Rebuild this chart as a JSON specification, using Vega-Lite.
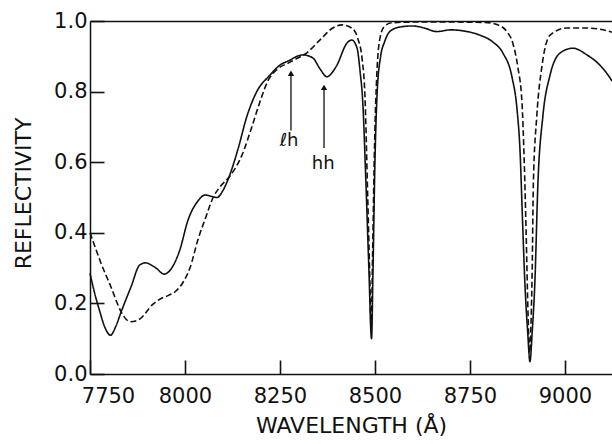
{
  "$schema": "https://vega.github.io/schema/vega-lite/v6.json",
  "width": 522,
  "height": 353,
  "autosize": "none",
  "padding": {"left": 90, "top": 21, "right": 0, "bottom": 70},
  "background": "white",
  "config": {
    "view": {"stroke": null},
    "font": "DejaVu Sans",
    "axis": {
      "grid": false,
      "domainColor": "#111",
      "tickColor": "#111",
      "labelColor": "#111",
      "titleColor": "#111",
      "labelFont": "DejaVu Sans",
      "titleFont": "DejaVu Sans",
      "labelFontSize": 21,
      "titleFontSize": 22,
      "titleFontWeight": "normal",
      "domainWidth": 1.5,
      "tickWidth": 1.6
    }
  },
  "datasets": {
    "curves": [
      {"series": "measured", "wl": 7750, "r": 0.285},
      {"series": "measured", "wl": 7762, "r": 0.23},
      {"series": "measured", "wl": 7775, "r": 0.18},
      {"series": "measured", "wl": 7790, "r": 0.13},
      {"series": "measured", "wl": 7804, "r": 0.11},
      {"series": "measured", "wl": 7818, "r": 0.135},
      {"series": "measured", "wl": 7832, "r": 0.176},
      {"series": "measured", "wl": 7858, "r": 0.247},
      {"series": "measured", "wl": 7881, "r": 0.309},
      {"series": "measured", "wl": 7897, "r": 0.315},
      {"series": "measured", "wl": 7912, "r": 0.308},
      {"series": "measured", "wl": 7924, "r": 0.3},
      {"series": "measured", "wl": 7945, "r": 0.283},
      {"series": "measured", "wl": 7963, "r": 0.297},
      {"series": "measured", "wl": 7986, "r": 0.35},
      {"series": "measured", "wl": 8008, "r": 0.436},
      {"series": "measured", "wl": 8034, "r": 0.49},
      {"series": "measured", "wl": 8053, "r": 0.507},
      {"series": "measured", "wl": 8070, "r": 0.503},
      {"series": "measured", "wl": 8084, "r": 0.5},
      {"series": "measured", "wl": 8100, "r": 0.52},
      {"series": "measured", "wl": 8113, "r": 0.55},
      {"series": "measured", "wl": 8139, "r": 0.635},
      {"series": "measured", "wl": 8163, "r": 0.73},
      {"series": "measured", "wl": 8189, "r": 0.8},
      {"series": "measured", "wl": 8224, "r": 0.847},
      {"series": "measured", "wl": 8250, "r": 0.875},
      {"series": "measured", "wl": 8276, "r": 0.889},
      {"series": "measured", "wl": 8295, "r": 0.9},
      {"series": "measured", "wl": 8311, "r": 0.904},
      {"series": "measured", "wl": 8337, "r": 0.895},
      {"series": "measured", "wl": 8355, "r": 0.865},
      {"series": "measured", "wl": 8374, "r": 0.842},
      {"series": "measured", "wl": 8388, "r": 0.855},
      {"series": "measured", "wl": 8400, "r": 0.875},
      {"series": "measured", "wl": 8426, "r": 0.937},
      {"series": "measured", "wl": 8439, "r": 0.946},
      {"series": "measured", "wl": 8453, "r": 0.923},
      {"series": "measured", "wl": 8461, "r": 0.856},
      {"series": "measured", "wl": 8468, "r": 0.77},
      {"series": "measured", "wl": 8476, "r": 0.55},
      {"series": "measured", "wl": 8484, "r": 0.3},
      {"series": "measured", "wl": 8491, "r": 0.1},
      {"series": "measured", "wl": 8495, "r": 0.3},
      {"series": "measured", "wl": 8500, "r": 0.6},
      {"series": "measured", "wl": 8506, "r": 0.8},
      {"series": "measured", "wl": 8515, "r": 0.9},
      {"series": "measured", "wl": 8525, "r": 0.94},
      {"series": "measured", "wl": 8539, "r": 0.97},
      {"series": "measured", "wl": 8566, "r": 0.983},
      {"series": "measured", "wl": 8600, "r": 0.986},
      {"series": "measured", "wl": 8630, "r": 0.98},
      {"series": "measured", "wl": 8663, "r": 0.97},
      {"series": "measured", "wl": 8700, "r": 0.975},
      {"series": "measured", "wl": 8732, "r": 0.972},
      {"series": "measured", "wl": 8776, "r": 0.96},
      {"series": "measured", "wl": 8811, "r": 0.94},
      {"series": "measured", "wl": 8837, "r": 0.909},
      {"series": "measured", "wl": 8861, "r": 0.84},
      {"series": "measured", "wl": 8874, "r": 0.75},
      {"series": "measured", "wl": 8882, "r": 0.63},
      {"series": "measured", "wl": 8888, "r": 0.45},
      {"series": "measured", "wl": 8895, "r": 0.25},
      {"series": "measured", "wl": 8902, "r": 0.12},
      {"series": "measured", "wl": 8908, "r": 0.035},
      {"series": "measured", "wl": 8914, "r": 0.12},
      {"series": "measured", "wl": 8921, "r": 0.26},
      {"series": "measured", "wl": 8929, "r": 0.54},
      {"series": "measured", "wl": 8942, "r": 0.73},
      {"series": "measured", "wl": 8961, "r": 0.847},
      {"series": "measured", "wl": 8987, "r": 0.909},
      {"series": "measured", "wl": 9021, "r": 0.923},
      {"series": "measured", "wl": 9058, "r": 0.904},
      {"series": "measured", "wl": 9092, "r": 0.875},
      {"series": "measured", "wl": 9118, "r": 0.84},
      {"series": "measured", "wl": 9124, "r": 0.83},
      {"series": "calculated", "wl": 7750, "r": 0.4},
      {"series": "calculated", "wl": 7765, "r": 0.355},
      {"series": "calculated", "wl": 7779, "r": 0.314},
      {"series": "calculated", "wl": 7805, "r": 0.247},
      {"series": "calculated", "wl": 7832, "r": 0.176},
      {"series": "calculated", "wl": 7845, "r": 0.155},
      {"series": "calculated", "wl": 7858, "r": 0.148},
      {"series": "calculated", "wl": 7870, "r": 0.15},
      {"series": "calculated", "wl": 7884, "r": 0.158},
      {"series": "calculated", "wl": 7913, "r": 0.195},
      {"series": "calculated", "wl": 7937, "r": 0.214},
      {"series": "calculated", "wl": 7955, "r": 0.222},
      {"series": "calculated", "wl": 7974, "r": 0.233},
      {"series": "calculated", "wl": 7995, "r": 0.26},
      {"series": "calculated", "wl": 8013, "r": 0.3},
      {"series": "calculated", "wl": 8034, "r": 0.38},
      {"series": "calculated", "wl": 8055, "r": 0.445},
      {"series": "calculated", "wl": 8074, "r": 0.5},
      {"series": "calculated", "wl": 8092, "r": 0.53},
      {"series": "calculated", "wl": 8118, "r": 0.56},
      {"series": "calculated", "wl": 8150, "r": 0.62},
      {"series": "calculated", "wl": 8176, "r": 0.7},
      {"series": "calculated", "wl": 8197, "r": 0.77},
      {"series": "calculated", "wl": 8218, "r": 0.83},
      {"series": "calculated", "wl": 8245, "r": 0.865},
      {"series": "calculated", "wl": 8274, "r": 0.882},
      {"series": "calculated", "wl": 8297, "r": 0.895},
      {"series": "calculated", "wl": 8321, "r": 0.91},
      {"series": "calculated", "wl": 8355, "r": 0.946},
      {"series": "calculated", "wl": 8389, "r": 0.98},
      {"series": "calculated", "wl": 8413, "r": 0.989},
      {"series": "calculated", "wl": 8439, "r": 0.98},
      {"series": "calculated", "wl": 8455, "r": 0.95},
      {"series": "calculated", "wl": 8466, "r": 0.895},
      {"series": "calculated", "wl": 8474, "r": 0.78},
      {"series": "calculated", "wl": 8481, "r": 0.5},
      {"series": "calculated", "wl": 8487, "r": 0.25},
      {"series": "calculated", "wl": 8490, "r": 0.12},
      {"series": "calculated", "wl": 8494, "r": 0.35},
      {"series": "calculated", "wl": 8499, "r": 0.65},
      {"series": "calculated", "wl": 8505, "r": 0.85},
      {"series": "calculated", "wl": 8513, "r": 0.95},
      {"series": "calculated", "wl": 8525, "r": 0.985},
      {"series": "calculated", "wl": 8545, "r": 0.995},
      {"series": "calculated", "wl": 8600, "r": 0.997},
      {"series": "calculated", "wl": 8700, "r": 0.997},
      {"series": "calculated", "wl": 8790, "r": 0.996},
      {"series": "calculated", "wl": 8821, "r": 0.99},
      {"series": "calculated", "wl": 8847, "r": 0.97},
      {"series": "calculated", "wl": 8863, "r": 0.937},
      {"series": "calculated", "wl": 8876, "r": 0.87},
      {"series": "calculated", "wl": 8887, "r": 0.77},
      {"series": "calculated", "wl": 8893, "r": 0.6},
      {"series": "calculated", "wl": 8898, "r": 0.4},
      {"series": "calculated", "wl": 8903, "r": 0.17},
      {"series": "calculated", "wl": 8907, "r": 0.06},
      {"series": "calculated", "wl": 8911, "r": 0.15},
      {"series": "calculated", "wl": 8914, "r": 0.3},
      {"series": "calculated", "wl": 8917, "r": 0.54},
      {"series": "calculated", "wl": 8926, "r": 0.73},
      {"series": "calculated", "wl": 8940, "r": 0.875},
      {"series": "calculated", "wl": 8961, "r": 0.96},
      {"series": "calculated", "wl": 9005, "r": 0.98},
      {"series": "calculated", "wl": 9058, "r": 0.98},
      {"series": "calculated", "wl": 9118, "r": 0.97},
      {"series": "calculated", "wl": 9124, "r": 0.968}
    ],
    "arrows": [
      {"label": "ℓh", "wl": 8279, "lwl": 8274, "y1": 0.69, "y2": 0.852, "ly": 0.66},
      {"label": "hh", "wl": 8366, "lwl": 8364, "y1": 0.64, "y2": 0.812, "ly": 0.595}
    ]
  },
  "layer": [
    {
      "data": {"name": "curves"},
      "mark": {"type": "line", "interpolate": "monotone", "strokeWidth": 1.6, "color": "#111"},
      "encoding": {
        "x": {
          "field": "wl", "type": "quantitative",
          "scale": {"domain": [7750, 9124], "nice": false, "zero": false},
          "axis": {
            "values": [7750, 8000, 8250, 8500, 8750, 9000],
            "format": "d",
            "tickSize": -14,
            "labelPadding": 25,
            "labelFlush": false,
            "labelAlign": "center",
            "labelOffset": {"condition": {"test": "datum.value == 7750", "value": 18}, "value": 0},
            "title": "WAVELENGTH (Å)",
            "titleX": 261,
            "titleY": 58,
            "titleBaseline": "alphabetic"
          }
        },
        "y": {
          "field": "r", "type": "quantitative",
          "scale": {"domain": [0, 1], "nice": false},
          "title": "REFLECTIVITY",
          "axis": {
            "values": [0, 0.2, 0.4, 0.6, 0.8, 1.0],
            "format": ".1f",
            "tickSize": -14,
            "labelPadding": 17,
            "titleX": -60,
            "titleY": 172,
            "titleBaseline": "alphabetic"
          }
        },
        "strokeDash": {
          "field": "series", "type": "nominal",
          "scale": {"domain": ["measured", "calculated"], "range": [[1, 0], [6, 3]]},
          "legend": null
        }
      }
    },
    {
      "data": {"name": "arrows"},
      "mark": {"type": "rule", "strokeWidth": 1.3, "color": "#111"},
      "encoding": {
        "x": {
          "field": "wl", "type": "quantitative",
          "axis": {"orient": "top", "labels": false, "ticks": false, "title": null, "domainWidth": 1.5}
        },
        "y": {"field": "y1", "type": "quantitative", "title": "REFLECTIVITY"},
        "y2": {"field": "y2"}
      }
    },
    {
      "data": {"name": "arrows"},
      "mark": {"type": "point", "shape": "triangle-up", "filled": true, "size": 40, "color": "#111", "opacity": 1},
      "encoding": {
        "x": {"field": "wl", "type": "quantitative", "axis": null},
        "y": {"field": "y2", "type": "quantitative", "title": "REFLECTIVITY"}
      }
    },
    {
      "data": {"name": "arrows"},
      "mark": {"type": "text", "fontSize": 18, "color": "#111", "font": "DejaVu Sans", "baseline": "middle"},
      "encoding": {
        "x": {"field": "lwl", "type": "quantitative", "axis": null},
        "y": {"field": "ly", "type": "quantitative", "title": "REFLECTIVITY"},
        "text": {"field": "label"}
      }
    }
  ],
  "resolve": {"axis": {"x": "independent"}}
}
